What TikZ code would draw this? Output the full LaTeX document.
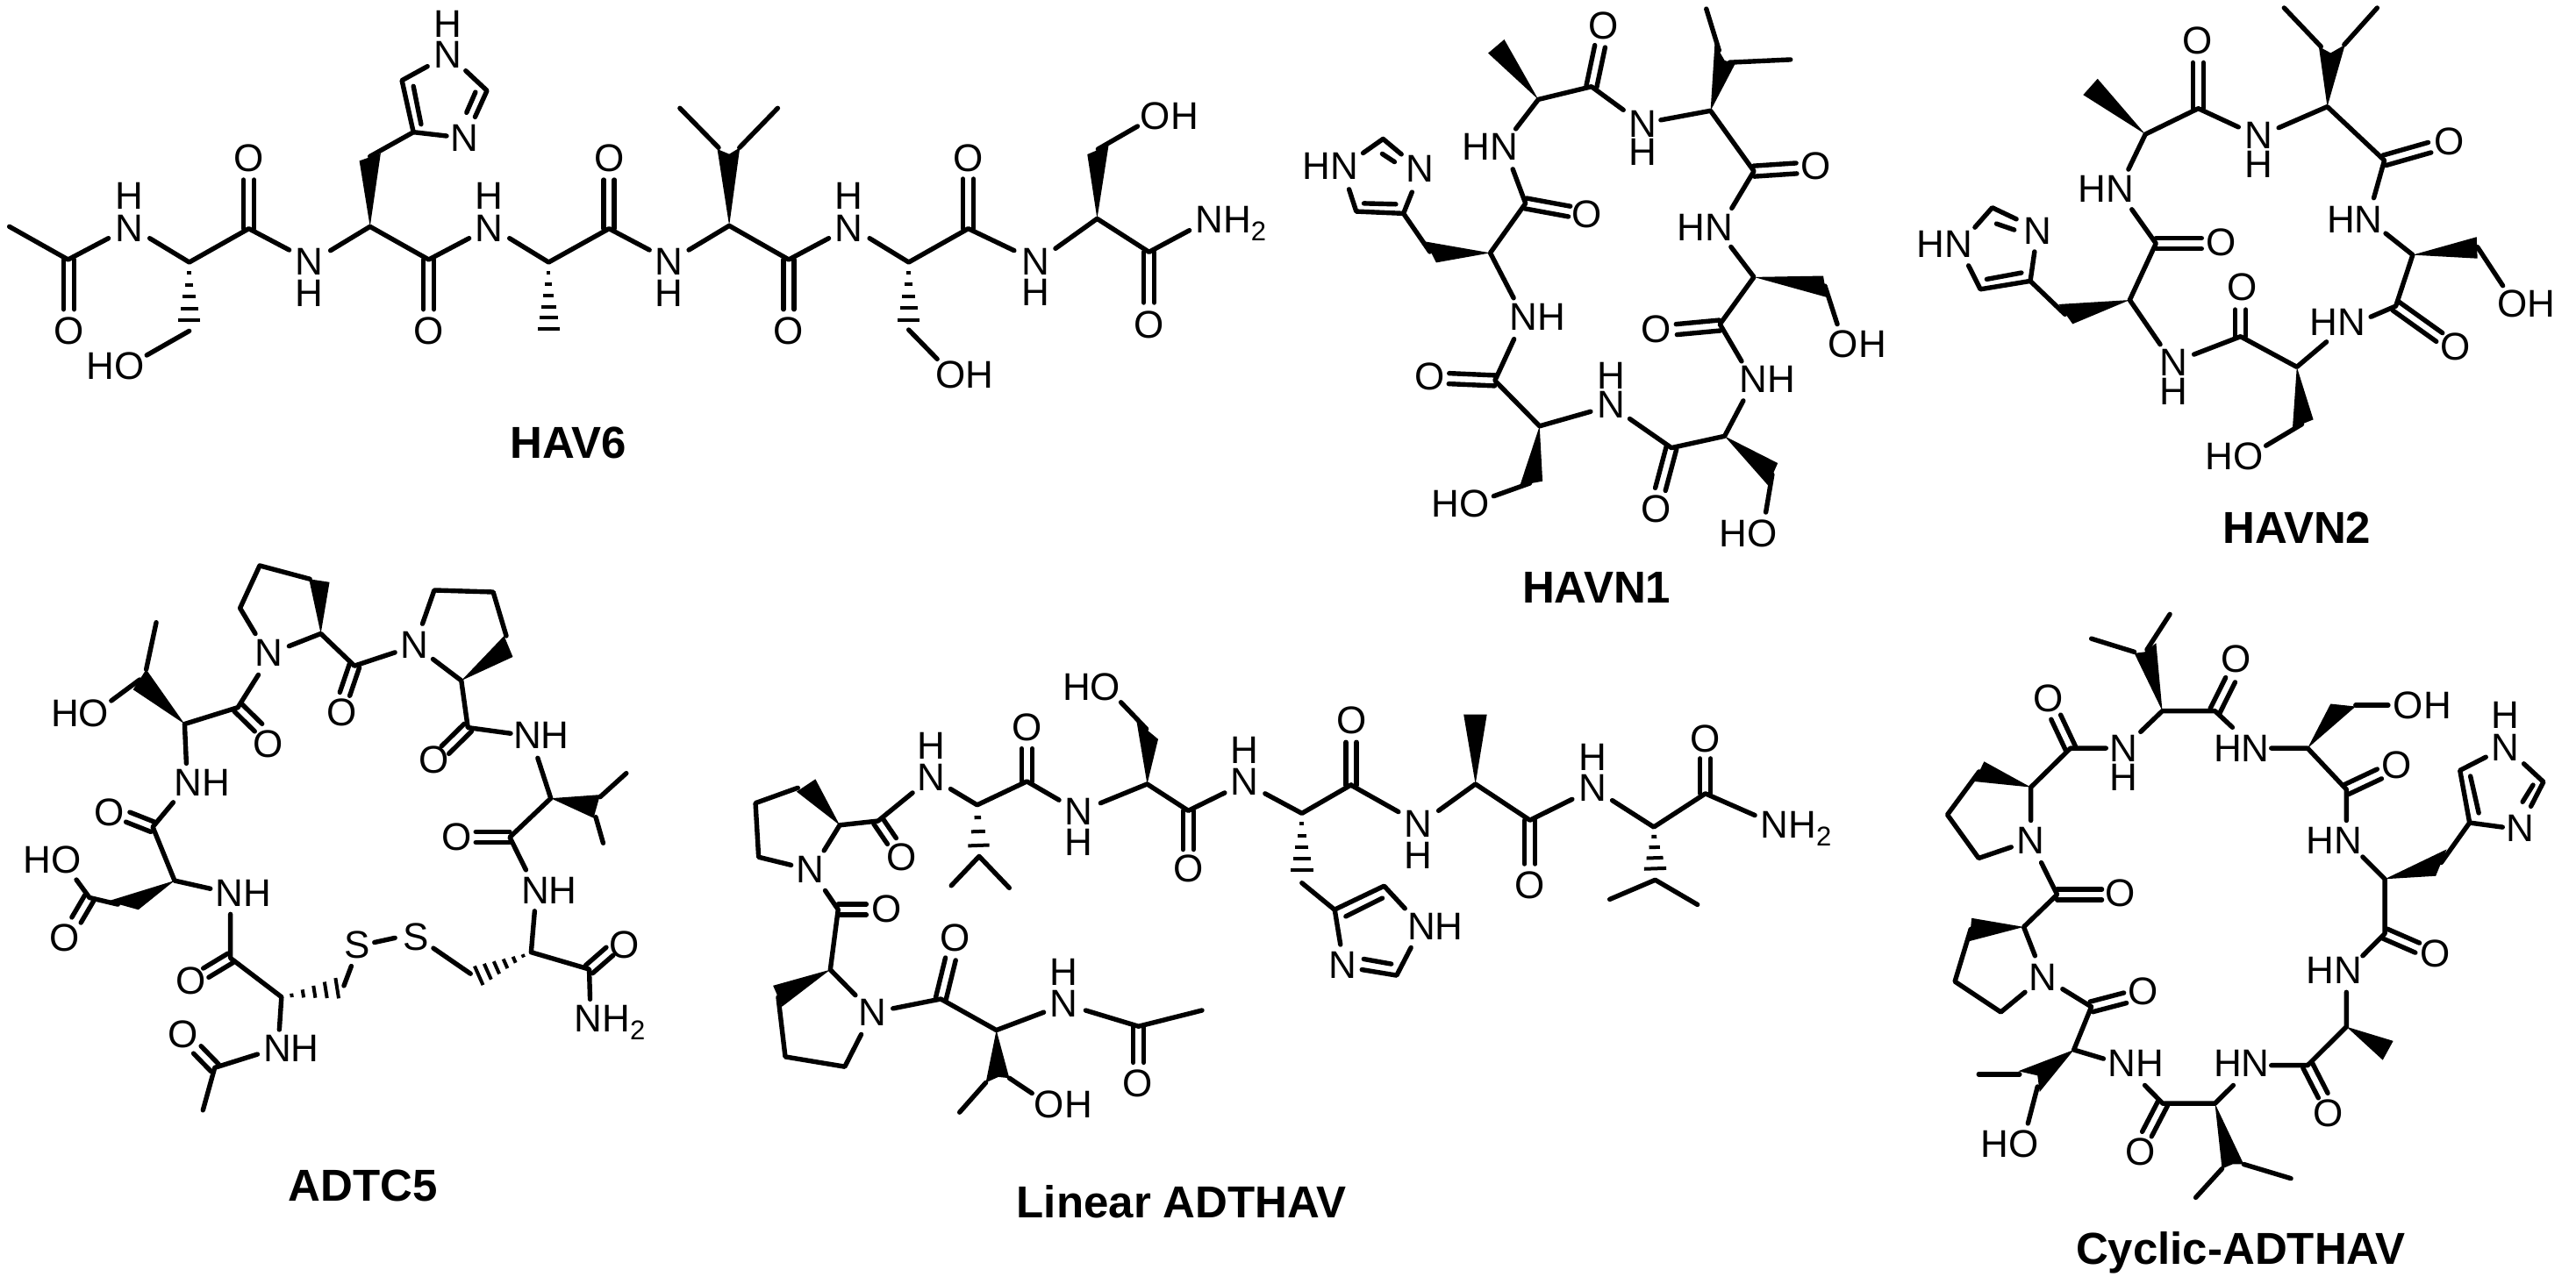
\documentclass[tikz,border=0pt]{standalone}
\usepackage{fontspec}
\setmainfont{Liberation Sans}
\newcounter{nn}
\tikzset{
  bond/.style={line width=2.7pt,line cap=round,line join=round},
  hbar/.style={line width=2pt,line cap=butt},
  atom/.style={anchor=base,inner sep=0pt,font=\fontsize{22}{24}\selectfont},
  title/.style={anchor=base,inner sep=0pt,font=\fontsize{25.5}{27}\selectfont\bfseries}
}
\newcommand\mol[4]{\begin{scope}[shift={(#1pt,-#2pt)},x=#3pt,y=-#4pt]\def\ux{#3}\def\uy{#4}}
\newcommand\atm[3]{\stepcounter{nn}\node[atom] (a\arabic{nn}) at (#1,#2) {#3};}
\newcommand\stk[5]{\stepcounter{nn}\pgfmathsetmacro\rs{(#3-#2)*\uy}\node[atom,align=center,font=\fontsize{22}{\rs pt}\selectfont] (a\arabic{nn}) at (#1,#3) {#4\\#5};}
\newcommand\mlabel[3]{\stepcounter{nn}\node[title] (t\arabic{nn}) at (#1,#2) {#3};}
\newcommand\nhtwo{NH\raisebox{-4.5pt}{\fontsize{15.5}{16}\selectfont 2}}
\newcommand\dbl[4]{%
  \pgfmathsetmacro\dlx{(#3-#1)*\ux}%
  \pgfmathsetmacro\dly{-(#4-#2)*\uy}%
  \pgfmathsetmacro\dln{veclen(\dlx,\dly)}%
  \pgfmathsetmacro\ox{-(\dly)/\dln*3}%
  \pgfmathsetmacro\oy{(\dlx)/\dln*3}%
  \pgfmathsetmacro\oxm{-(\ox)}%
  \pgfmathsetmacro\oym{-(\oy)}%
  \draw[bond,shift={(\ox pt,\oy pt)}] (#1,#2)--(#3,#4);
  \draw[bond,shift={(\oxm pt,\oym pt)}] (#1,#2)--(#3,#4);
}
\newcommand\hsh[6]{%
  \pgfmathsetmacro\dlx{(#3-#1)*\ux}%
  \pgfmathsetmacro\dly{-(#4-#2)*\uy}%
  \pgfmathsetmacro\dln{veclen(\dlx,\dly)}%
  \foreach \i in {1,...,#6}{%
    \pgfmathsetmacro\ft{(\i-0.1)/#6}%
    \pgfmathsetmacro\ox{-(\dly)/\dln*\ft*#5}%
    \pgfmathsetmacro\oy{(\dlx)/\dln*\ft*#5}%
    \pgfmathsetmacro\oxm{-(\ox)}%
    \pgfmathsetmacro\oym{-(\oy)}%
    \pgfmathsetmacro\qx{#1+\ft*(#3-#1)}%
    \pgfmathsetmacro\qy{#2+\ft*(#4-#2)}%
    \draw[hbar] ([shift={(\ox pt,\oy pt)}]\qx,\qy)--([shift={(\oxm pt,\oym pt)}]\qx,\qy);
  }%
}
\begin{document}
\begin{tikzpicture}
\useasboundingbox (0,0) rectangle (1468pt,-731.5pt);
% ---------- HAV6 left
\mol{0}{0}{0.24237}{0.16667}
\stk{305}{715}{825}{H}{N}\atm{585}{585}{O}\atm{162}{1178}{O}\atm{272}{1297}{HO}
\stk{727}{940}{1047}{N}{H}\atm{1008}{1178}{O}\atm{1092}{518}{N}\stk{1053}{127}{232}{H}{N}
\stk{1150}{715}{825}{H}{N}\atm{1432}{585}{O}
\draw[bond] (22,775)--(160,888)--(255,815);
\dbl{162}{888}{162}{1058}
\draw[bond] (352,815)--(445,897)--(585,782)--(680,855);
\dbl{585}{782}{585}{615}
\hsh{445}{897}{445}{1100}{6.3}{5}
\draw[bond] (445,1132)--(345,1215);
\draw[bond] (777,857)--(870,775)--(1008,888)--(1103,815);
\dbl{1008}{888}{1008}{1058}
\fill (870,775)--(845,550)--(895,525)--cycle;
\draw[bond] (870,535)--(972,452)--(945,275)--(1005,227);
\draw[bond] (972,452)--(1050,465);
\draw[bond] (990,425)--(972,295);
\draw[bond] (1095,242)--(1145,310)--(1117,400);
\draw[bond] (1097,385)--(1118,315);
\draw[bond] (1198,815)--(1290,897)--(1432,782)--(1527,855);
\dbl{1432}{782}{1432}{615}
\hsh{1290}{897}{1290}{1130}{6.3}{6}
\mlabel{1337}{1566}{HAV6}
\end{scope}
% ---------- HAV6 right
\mol{370}{0}{0.24237}{0.16667}
\stk{47}{940}{1047}{N}{H}\atm{328}{1178}{O}\stk{470}{715}{825}{H}{N}\atm{750}{585}{O}
\atm{742}{1328}{OH}\stk{908}{940}{1045}{N}{H}\atm{1175}{1155}{O}\atm{1223}{442}{OH}\atm{1367}{797}{\nhtwo}
\draw[bond] (93,855)--(188,772)--(328,888)--(422,815);
\dbl{328}{888}{328}{1058}
\fill (188,772)--(213,505)--(188,527)--(160,510)--cycle;
\draw[bond] (72,370)--(163,505);
\draw[bond] (302,370)--(212,505);
\draw[bond] (518,815)--(610,897)--(750,782)--(858,857);
\dbl{750}{782}{750}{612}
\hsh{610}{897}{610}{1098}{6.3}{5}
\draw[bond] (610,1128)--(677,1228);
\draw[bond] (955,850)--(1053,748)--(1175,862)--(1270,788);
\dbl{1175}{862}{1175}{1035}
\fill (1053,748)--(1030,528)--(1080,497)--cycle;
\draw[bond] (1055,510)--(1148,432);
\end{scope}
% ---------- HAVN1
\mol{730}{0}{0.24237}{0.22959}
\atm{492}{398}{HN}\stk{850}{340}{410}{N}{H}\atm{116}{445}{HN}\atm{327}{452}{N}\atm{720}{565}{O}\atm{758}{97}{O}
\atm{1257}{445}{O}\atm{997}{598}{HN}\atm{1355}{888}{OH}\atm{883}{850}{O}\atm{1143}{975}{NH}\atm{883}{1297}{O}
\atm{1098}{1358}{HO}\stk{776}{965}{1037}{H}{N}\atm{350}{968}{O}\atm{603}{820}{NH}\atm{422}{1283}{HO}
\draw[bond] (193,380)--(240,345)--(283,383);
\draw[bond] (238,382)--(267,402);
\draw[bond] (160,470)--(177,525)--(288,530)--(308,477);
\draw[bond] (195,505)--(270,507);
\draw[bond] (288,530)--(350,625);
\fill (492,628)--(340,600)--(365,652)--cycle;
\draw[bond] (547,740)--(492,628)--(575,505)--(545,420);
\dbl{575}{505}{678}{525}
\draw[bond] (552,320)--(605,247)--(730,215)--(805,273);
\fill (605,247)--(525,98)--(487,132)--cycle;
\dbl{730}{215}{750}{115}
\draw[bond] (893,298)--(1010,275)--(1112,425)--(1060,517);
\fill (1010,275)--(1068,158)--(1043,150)--(1020,108)--cycle;
\draw[bond] (1000,22)--(1030,125);
\draw[bond] (1055,155)--(1198,148);
\dbl{1112}{425}{1212}{418}
\draw[bond] (1058,613)--(1112,688)--(1032,805)--(1083,897);
\fill (1112,688)--(1275,685)--(1283,738)--cycle;
\draw[bond] (1279,710)--(1308,805);
\dbl{1032}{808}{930}{818}
\draw[bond] (1087,995)--(1043,1083)--(918,1112)--(820,1040);
\dbl{918}{1112}{892}{1215}
\fill (1043,1083)--(1168,1150)--(1145,1205)--cycle;
\draw[bond] (1155,1178)--(1140,1272);
\draw[bond] (728,1022)--(608,1058)--(503,945)--(548,842);
\dbl{503}{945}{395}{940}
\fill (608,1058)--(562,1205)--(615,1195)--cycle;
\draw[bond] (585,1200)--(500,1232);
\mlabel{742}{1497}{HAVN1}
\end{scope}
% ---------- HAVN2
\mol{1090}{0}{0.24107}{0.20408}
\atm{1268}{432}{O}\stk{818}{415}{495}{N}{H}\atm{674}{150}{O}\atm{457}{565}{HN}\atm{730}{713}{O}\atm{75}{720}{HN}\atm{295}{682}{N}
\stk{617}{1050}{1130}{N}{H}\atm{778}{840}{O}\atm{760}{1312}{HO}\atm{1005}{938}{HN}\atm{1045}{650}{HN}\atm{1283}{1005}{O}\atm{1450}{885}{OH}
\draw[bond] (878,22)--(965,130);
\draw[bond] (1098,22)--(1020,125);
\fill (980,298)--(960,130)--(988,148)--(1022,125)--cycle;
\draw[bond] (865,357)--(980,298)--(1115,448)--(1090,553);
\dbl{1115}{448}{1222}{412}
\draw[bond] (770,355)--(675,303)--(550,375)--(510,473);
\dbl{675}{303}{675}{175}
\fill (550,375)--(437,220)--(403,265)--cycle;
\draw[bond] (518,585)--(575,680)--(513,838)--(585,962);
\dbl{575}{680}{683}{680}
\fill (513,838)--(345,850)--(378,905)--cycle;
\draw[bond] (278,785)--(360,878);
\draw[bond] (147,635)--(188,580)--(245,612);
\draw[bond] (198,625)--(240,642);
\draw[bond] (132,742)--(160,808)--(278,785)--(288,703);
\draw[bond] (175,780)--(257,762);
\draw[bond] (665,990)--(775,940)--(908,1025)--(978,955);
\dbl{775}{940}{775}{865}
\fill (908,1025)--(898,1195)--(947,1172)--cycle;
\draw[bond] (920,1185)--(835,1245);
\draw[bond] (1083,885)--(1142,855)--(1182,712)--(1118,652);
\dbl{1142}{855}{1245}{942}
\fill (1182,712)--(1333,662)--(1335,722)--cycle;
\draw[bond] (1335,690)--(1395,798);
\mlabel{908}{1518}{HAVN2}
\end{scope}
% ---------- ADTC5
\mol{0}{300}{0.24872}{0.25510}
\atm{615}{312}{N}\atm{950}{295}{N}\atm{1240}{497}{NH}\atm{783}{445}{O}\atm{995}{552}{O}\atm{615}{517}{O}\atm{183}{448}{HO}
\atm{463}{603}{NH}\atm{250}{670}{O}\atm{120}{775}{HO}\atm{148}{950}{O}\atm{558}{850}{NH}\atm{437}{1045}{O}\atm{818}{965}{S}\atm{953}{947}{S}
\atm{420}{1165}{O}\atm{667}{1197}{NH}\atm{1047}{725}{O}\atm{1258}{843}{NH}\atm{1430}{965}{O}\atm{1397}{1130}{\nhtwo}
\draw[bond] (585,240)--(550,183)--(595,88)--(710,118);
\fill (735,240)--(708,118)--(755,125)--cycle;
\draw[bond] (662,268)--(735,240)--(812,312)--(905,282);
\dbl{812}{312}{790}{375}
\draw[bond] (968,218)--(995,143)--(1130,147)--(1160,245);
\fill (1057,345)--(1155,245)--(1175,292)--cycle;
\draw[bond] (992,297)--(1057,345)--(1072,450)--(1170,463);
\dbl{1072}{450}{1020}{500}
\draw[bond] (1232,518)--(1262,608)--(1168,695)--(1205,768);
\fill (1262,608)--(1375,600)--(1360,652)--cycle;
\draw[bond] (1375,605)--(1435,552);
\draw[bond] (1365,650)--(1382,708);
\dbl{1168}{695}{1090}{695}
\draw[bond] (1225,860)--(1217,952)--(1350,990)--(1352,1057);
\dbl{1350}{990}{1397}{950}
\hsh{1217}{952}{1095}{1005}{6}{6}
\draw[bond] (1078,1000)--(993,943);
\draw[bond] (858,930)--(905,920);
\draw[bond] (805,983)--(788,1027);
\hsh{645}{1052}{775}{1032}{6}{5}
\draw[bond] (640,1125)--(645,1052)--(528,965)--(528,867);
\dbl{528}{965}{472}{998}
\draw[bond] (590,1180)--(492,1210)--(465,1305);
\dbl{492}{1210}{452}{1170}
\draw[bond] (482,810)--(400,792)--(350,672)--(397,617);
\dbl{350}{672}{293}{650}
\fill (400,792)--(247,838)--(317,857)--cycle;
\draw[bond] (270,845)--(205,830)--(175,790);
\dbl{205}{830}{175}{880}
\draw[bond] (427,530)--(423,442)--(545,405)--(592,332);
\dbl{545}{405}{592}{450}
\fill (423,442)--(335,320)--(305,365)--cycle;
\draw[bond] (320,343)--(255,390);
\draw[bond] (335,320)--(358,215);
\mlabel{832}{1508}{ADTC5}
\end{scope}
% ---------- Linear ADTHAV left
\mol{410}{370}{0.22321}{0.21684}
\atm{950}{135}{HO}\stk{540}{290}{373}{H}{N}\atm{785}{240}{O}\stk{918}{462}{542}{N}{H}\atm{465}{583}{O}\atm{1197}{613}{O}
\stk{1340}{300}{383}{H}{N}\atm{232}{615}{N}\atm{428}{718}{O}\atm{602}{795}{O}\stk{880}{885}{967}{H}{N}\atm{390}{990}{N}
\atm{1068}{1178}{O}\atm{878}{1232}{OH}
\draw[bond] (183,568)--(100,547)--(92,405)--(200,365);
\fill (307,463)--(245,342)--(197,375)--cycle;
\draw[bond] (267,530)--(307,463)--(405,452)--(493,378);
\dbl{405}{452}{440}{505}
\draw[bond] (590,368)--(658,410)--(785,348)--(867,397);
\dbl{785}{348}{785}{262}
\hsh{658}{410}{662}{520}{6.25}{3}
\draw[bond] (592,622)--(663,545)--(740,628);
\draw[bond] (973,405)--(1092,355)--(1197,425)--(1290,378);
\dbl{1197}{425}{1197}{527}
\fill (1092,355)--(1065,190)--(1120,237)--cycle;
\draw[bond] (1025,140)--(1090,210);
\draw[bond] (1393,380)--(1487,432)--(1613,357);
\hsh{1487}{432}{1487}{585}{6.5}{5}
\draw[bond] (1487,615)--(1570,685);
\draw[bond] (270,635)--(303,685)--(283,843)--(347,910);
\dbl{303}{685}{375}{685}
\fill (283,843)--(137,885)--(160,940)--cycle;
\draw[bond] (150,915)--(168,1072)--(320,1098)--(362,1013);
\draw[bond] (443,945)--(565,920)--(707,1002)--(828,955);
\dbl{565}{920}{590}{815}
\draw[bond] (935,950)--(1070,992)--(1232,950);
\dbl{1070}{992}{1070}{1087}
\fill (707,1002)--(680,1140)--(712,1125)--(740,1128)--cycle;
\draw[bond] (680,1140)--(613,1218);
\draw[bond] (740,1128)--(798,1168);
\mlabel{1180}{1495}{Linear ADTHAV}
\end{scope}
% ---------- Linear ADTHAV right
\mol{750}{370}{0.20408}{0.21684}
\atm{100}{222}{O}\stk{285}{495}{578}{N}{H}\atm{597}{655}{O}\stk{773}{320}{400}{H}{N}\atm{1087}{270}{O}\atm{1340}{497}{\nhtwo}
\atm{333}{765}{NH}\atm{75}{865}{N}
\draw[bond] (98,358)--(230,428);
\dbl{98}{358}{98}{245}
\draw[bond] (342,425)--(445,355)--(597,450)--(715,395);
\dbl{597}{450}{597}{565}
\fill (445,355)--(412,172)--(477,172)--cycle;
\draw[bond] (827,398)--(943,468)--(1087,380)--(1225,437);
\dbl{1087}{380}{1087}{288}
\hsh{943}{468}{947}{580}{6.5}{4}
\draw[bond] (820,658)--(947,607)--(1065,672);
\draw[bond] (68,777)--(52,685)--(190,623)--(248,682);
\draw[bond] (83,703)--(185,655);
\draw[bond] (265,785)--(225,858)--(128,843);
\draw[bond] (133,815)--(210,828);
\end{scope}
% ---------- Cyclic-ADTHAV
\mol{1095}{335}{0.23788}{0.25287}
\atm{754}{190}{O}\atm{1200}{295}{OH}\stk{1398}{317}{390}{H}{N}\atm{304}{280}{O}\stk{484}{393}{458}{N}{H}\atm{767}{393}{HN}
\atm{1138}{430}{O}\atm{988}{600}{HN}\atm{1435}{573}{N}\atm{262}{600}{N}\atm{477}{718}{O}\atm{1230}{855}{O}\atm{988}{893}{HN}\atm{290}{908}{N}
\atm{530}{940}{O}\atm{513}{1103}{NH}\atm{767}{1103}{HN}\atm{975}{1215}{O}\atm{212}{1285}{HO}\atm{525}{1303}{O}
\draw[bond] (407,115)--(510,145);
\draw[bond] (595,60)--(540,140);
\fill (577,278)--(510,148)--(535,145)--(562,125)--cycle;
\draw[bond] (525,325)--(577,278)--(703,278)--(745,315);
\dbl{703}{278}{740}{208}
\draw[bond] (442,362)--(357,362)--(262,450)--(262,525);
\dbl{357}{362}{322}{292}
\fill (262,450)--(150,392)--(127,437)--cycle;
\draw[bond] (138,415)--(62,512)--(137,610)--(215,585);
\draw[bond] (287,620)--(325,692)--(245,765)--(272,830);
\dbl{325}{692}{432}{692}
\fill (245,765)--(120,745)--(115,797)--cycle;
\draw[bond] (118,770)--(80,888)--(190,957)--(248,912);
\draw[bond] (338,905)--(407,945)--(365,1042)--(436,1062);
\dbl{407}{945}{488}{925}
\fill (365,1042)--(232,1090)--(278,1100)--(283,1137)--cycle;
\draw[bond] (137,1097)--(235,1097);
\draw[bond] (278,1125)--(255,1208);
\draw[bond] (535,1122)--(578,1163)--(703,1163)--(747,1122);
\dbl{578}{1163}{540}{1232}
\fill (703,1163)--(720,1310)--(745,1300)--(772,1300)--cycle;
\draw[bond] (720,1310)--(657,1375);
\draw[bond] (772,1300)--(885,1332);
\draw[bond] (838,1077)--(925,1077)--(1018,990)--(1018,912);
\dbl{925}{1077}{962}{1145}
\fill (1018,990)--(1130,1022)--(1105,1065)--cycle;
\draw[bond] (1057,830)--(1110,780)--(1110,657)--(1057,607);
\dbl{1110}{780}{1188}{812}
\fill (1110,657)--(1258,590)--(1232,650)--cycle;
\draw[bond] (1245,620)--(1313,530)--(1392,540);
\draw[bond] (1313,530)--(1290,412)--(1352,382);
\draw[bond] (1335,508)--(1315,425);
\draw[bond] (1443,397)--(1490,438)--(1460,493);
\draw[bond] (1440,483)--(1465,445);
\draw[bond] (1018,525)--(1018,455)--(925,362)--(838,362);
\dbl{1018}{455}{1097}{420}
\fill (925,362)--(980,262)--(1040,268)--cycle;
\draw[bond] (1040,265)--(1118,265);
\mlabel{765}{1525}{Cyclic-ADTHAV}
\end{scope}
\end{tikzpicture}
\end{document}
